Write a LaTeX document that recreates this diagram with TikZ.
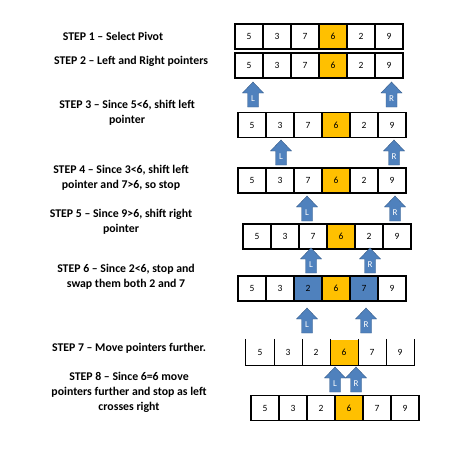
\documentclass[tikz,border=0pt]{standalone}
\usepackage{fontspec}
\setmainfont{Carlito}
\definecolor{pivot}{HTML}{FFC000}
\definecolor{swapblue}{HTML}{4F81BD}
\definecolor{ptredge}{HTML}{385D8A}
\tikzset{
  cell/.style={draw, line width=1.1pt, minimum width=28pt, minimum height=25pt, inner sep=0pt, font=\fontsize{9.5}{11}\selectfont},
  opencell/.style={cell, draw=none},
  steptext/.style={font=\fontsize{11.8}{14.8}\selectfont\bfseries, align=center},
  pics/ptr/.style={code={
    \filldraw[fill=swapblue, draw=ptredge] (-5.5,0) -- (5.5,0) -- (5.5,-14) -- (10.5,-14) -- (0,-25) -- (-10.5,-14) -- (-5.5,-14) -- cycle;
    \node[text=white, font=\fontsize{9}{10}\selectfont] (-tag) at (0,-8) {#1};
  }}
}
\begin{document}
\begin{tikzpicture}[x=1pt, y=-1pt]
\useasboundingbox (0,0) rectangle (465,450);
% the arrays
\foreach \r/\x/\y/\sty/\vals in {
  1/235/36.5/cell/{5/white,3/white,7/white,6/pivot,2/white,9/white},
  2/235/65.5/cell/{5/white,3/white,7/white,6/pivot,2/white,9/white},
  3/238/125/cell/{5/white,3/white,7/white,6/pivot,2/white,9/white},
  4/238/180.5/cell/{5/white,3/white,7/white,6/pivot,2/white,9/white},
  5/243/236.5/cell/{5/white,3/white,7/white,6/pivot,2/white,9/white},
  6/238/288.5/cell/{5/white,3/white,2/swapblue,6/pivot,7/swapblue,9/white},
  7/246/352/opencell/{5/white,3/white,2/white,6/pivot,7/white,9/white},
  8/251/408/cell/{5/white,3/white,2/white,6/pivot,7/white,9/white}}
  \foreach \v/\f [count=\c] in \vals
    \node[\sty, fill=\f] (r\r-\c) at ({\x+28*\c-14},\y) {\v};
% step 7 row has no top edge
\draw[line width=1.1pt] (r7-1.north west) -- (r7-1.south west) -- (r7-6.south east) -- (r7-6.north east);
\foreach \c in {1,...,5}
  \draw[line width=1.1pt] (r7-\c.north east) -- (r7-\c.south east);
% pointers
\foreach \n/\x/\y/\t in {a2l/253/107/L, a2r/391.5/107/R,
  a3l/281/165/L, a3r/394/165/R,
  a4l/307/221/L, a4r/395/221/R,
  a5l/311/273/L, a5r/370/273/R,
  a6l/307/333/L, a6r/366/333/R,
  a7l/335/392/L, a7r/356/392/R}
  \pic (\n) at (\x,\y) {ptr=\t};
% step texts
\node[steptext] (s1) at (113,36) {STEP 1 – Select Pivot};
\node[steptext] (s2) at (131,61) {STEP 2 – Left and Right pointers};
\node[steptext] (s3) at (127,113) {STEP 3 – Since 5<6, shift left\\pointer};
\node[steptext] (s4) at (121,177.5) {STEP 4 – Since 3<6, shift left\\pointer and 7>6, so stop};
\node[steptext] (s5) at (121,221.5) {STEP 5 – Since 9>6, shift right\\pointer};
\node[steptext] (s6) at (126,276.5) {STEP 6 – Since 2<6, stop and\\swap them both 2 and 7};
\node[steptext] (s7) at (129,348) {STEP 7 – Move pointers further.};
\node[steptext] (s8) at (129,392.5) {STEP 8 – Since 6=6 move\\pointers further and stop as left\\crosses right};
\end{tikzpicture}
\end{document}
